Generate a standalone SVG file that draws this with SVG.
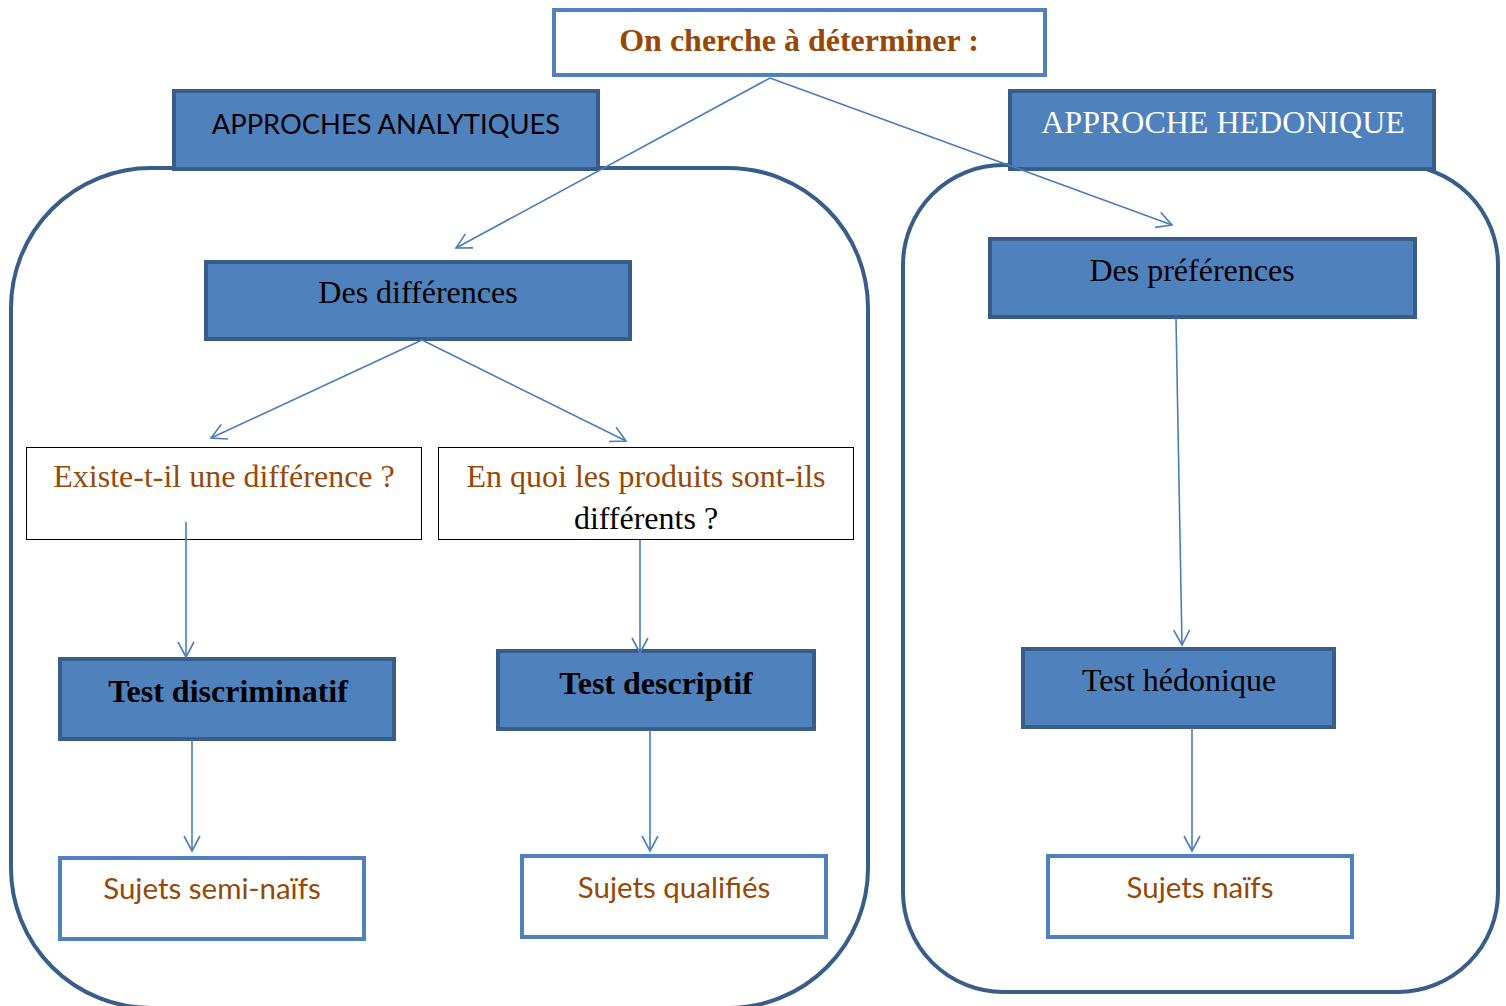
<svg xmlns="http://www.w3.org/2000/svg" width="1506" height="1006" viewBox="0 0 1506 1006">
<defs>
<style>
.blue{fill:#4F81BD;stroke:#385D8A;stroke-width:4}
.white{fill:#fff;stroke:#4F81BD;stroke-width:4}
.thin{fill:#fff;stroke:#000;stroke-width:1}
.group{fill:none;stroke:#385D8A;stroke-width:4}
.conn{fill:none;stroke:#4A7EBB;stroke-width:1.6}
.serif{font-family:"Liberation Serif","Times New Roman",serif;font-size:32px;text-anchor:middle}
.sans{font-family:Lato,"Liberation Sans",sans-serif;font-size:29.5px;text-anchor:middle}
.brown{fill:#984806}
</style>
<marker id="arr" markerUnits="userSpaceOnUse" viewBox="0 0 20 20" refX="17" refY="10" markerWidth="20" markerHeight="20" orient="auto">
<path d="M2,2 L17,10 L2,18" fill="none" stroke="#4A7EBB" stroke-width="1.6"/>
</marker>
</defs>
<rect width="1506" height="1006" fill="#fff"/>
<g id="group-left"><rect class="group" x="11" y="168" width="857" height="840" rx="140" ry="140"/></g>
<g id="group-right"><rect class="group" x="903" y="165" width="595" height="827" rx="100" ry="100"/></g>
<g id="approches-analytiques"><rect class="blue" x="174" y="91" width="424" height="78"/><text class="sans" x="386" y="134" fill="#000" style="font-size:27.3px">APPROCHES ANALYTIQUES</text></g>
<g id="approche-hedonique"><rect class="blue" x="1010" y="91" width="424" height="78"/><text class="serif" x="1223" y="133" fill="#fff">APPROCHE HEDONIQUE</text></g>
<g id="on-cherche"><rect class="white" x="554" y="10" width="491" height="65"/><text class="serif brown" x="799" y="51" font-weight="bold">On cherche à déterminer :</text></g>
<g id="des-differences"><rect class="blue" x="206" y="262" width="424" height="77"/><text class="serif" x="418" y="303">Des différences</text></g>
<g id="des-preferences"><rect class="blue" x="990" y="239" width="425" height="78"/><text class="serif" x="1192" y="281">Des préférences</text></g>
<g id="existe"><rect class="thin" x="26.5" y="447.5" width="395" height="92"/><text class="serif brown" x="224" y="487">Existe-t-il une différence ?</text></g>
<g id="en-quoi"><rect class="thin" x="438.5" y="447.5" width="415" height="92"/><text class="serif brown" x="646" y="487">En quoi les produits sont-ils</text><text class="serif" x="646" y="529">différents ?</text></g>
<g id="test-discriminatif"><rect class="blue" x="60" y="659" width="334" height="80"/><text class="serif" x="228" y="702" font-weight="bold">Test discriminatif</text></g>
<g id="test-descriptif"><rect class="blue" x="498" y="651" width="316" height="78"/><text class="serif" x="656" y="694" font-weight="bold">Test descriptif</text></g>
<g id="test-hedonique"><rect class="blue" x="1023" y="649" width="311" height="78"/><text class="serif" x="1179" y="691">Test hédonique</text></g>
<g id="sujets-semi-naifs"><rect class="white" x="60" y="858" width="304" height="81"/><text class="sans brown" x="212" y="899">Sujets semi-naïfs</text></g>
<g id="sujets-qualifies"><rect class="white" x="522" y="856" width="304" height="81"/><text class="sans brown" x="674" y="898">Sujets qualifiés</text></g>
<g id="sujets-naifs"><rect class="white" x="1048" y="856" width="304" height="81"/><text class="sans brown" x="1200" y="898">Sujets naïfs</text></g>
<g id="connectors">
<line class="conn" x1="770" y1="78" x2="456" y2="248" marker-end="url(#arr)"/>
<line class="conn" x1="770" y1="78" x2="1172" y2="225" marker-end="url(#arr)"/>
<line class="conn" x1="422" y1="340" x2="211" y2="438" marker-end="url(#arr)"/>
<line class="conn" x1="422" y1="340" x2="626" y2="441" marker-end="url(#arr)"/>
<line class="conn" x1="186" y1="522" x2="186" y2="657" marker-end="url(#arr)"/>
<line class="conn" x1="640" y1="540" x2="640" y2="653" marker-end="url(#arr)"/>
<line class="conn" x1="192" y1="740" x2="192" y2="851" marker-end="url(#arr)"/>
<line class="conn" x1="650" y1="730" x2="650" y2="851" marker-end="url(#arr)"/>
<line class="conn" x1="1176" y1="318" x2="1182" y2="645" marker-end="url(#arr)"/>
<line class="conn" x1="1192" y1="728" x2="1192" y2="851" marker-end="url(#arr)"/>
</g>
</svg>
